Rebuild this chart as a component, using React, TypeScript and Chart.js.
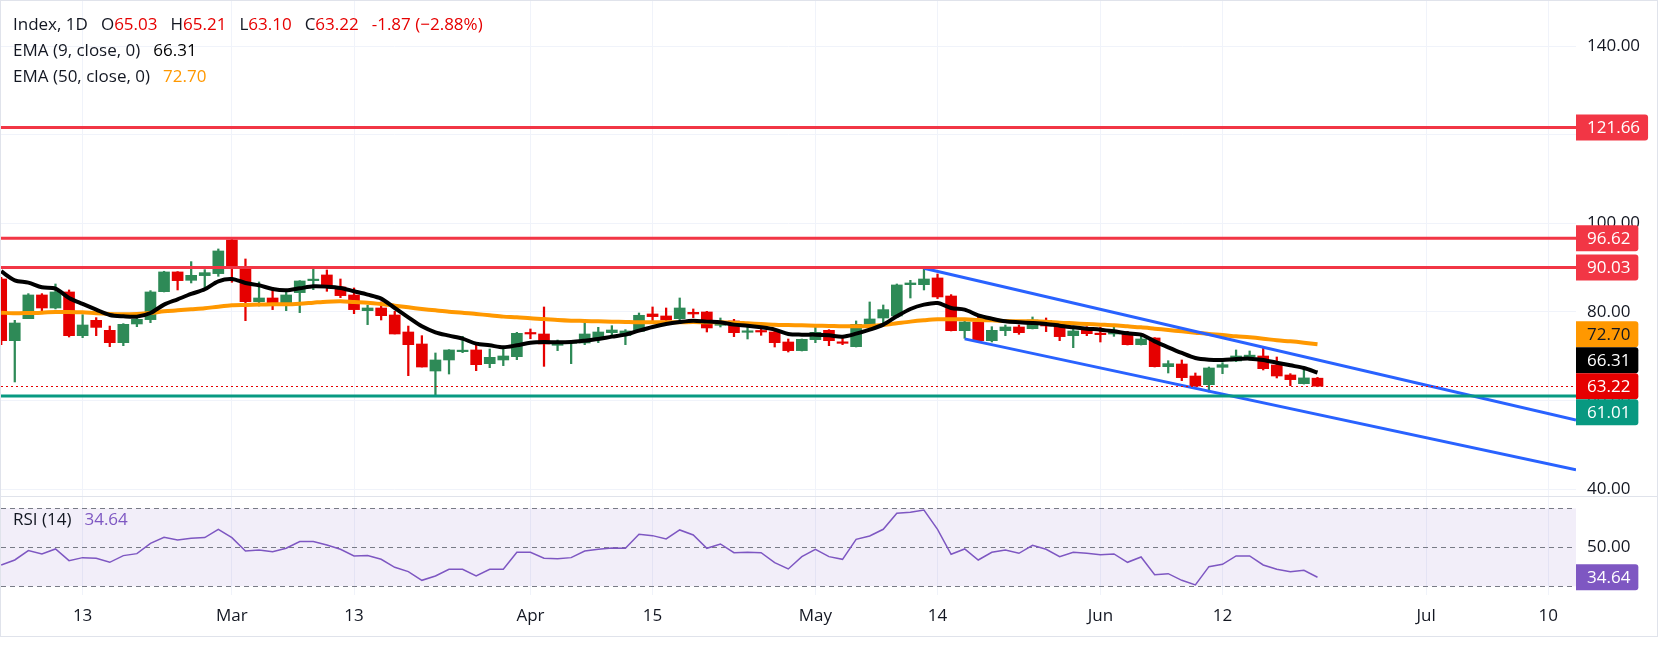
import React, { useEffect, useRef } from "react";
import { Chart, registerables } from "chart.js";

Chart.register(...registerables);

// ---------------- data ----------------
const opens = [
  87.43, 73.5, 78.47, 83.82, 80.88, 84.5, 74.63, 78.1, 75.84, 73.05,
  77.27, 78.25, 84.57, 89.02, 87.13, 88.19, 88.64, 96.24, 90.15, 82.31,
  83.14, 81.94, 84.35, 87.06, 88.34, 85.63, 83.82, 80.28, 80.88, 79.3,
  75.46, 72.75, 66.65, 69.14, 71.02, 71.4, 68.31, 69.14, 69.89, 75.16,
  75.01, 72.45, 72.9, 72.98, 74.18, 75.31, 74.63, 75.61, 79.53, 79.08,
  78.47, 79.9, 79.98, 76.97, 77.95, 75.39, 75.61, 75.46, 73.2, 71.25,
  73.73, 75.84, 73.05, 72.15, 77.19, 78.62, 79.08, 86.15, 86.15, 87.66,
  83.59, 75.76, 77.72, 73.5, 75.76, 76.59, 76.21, 78.1, 77.04, 74.63,
  75.91, 75.08, 75.01, 75.24, 72.6, 74.11, 67.63, 68.23, 65.52, 63.56,
  67.48, 68.91, 69.89, 70.04, 68.01, 65.75, 63.79, 65.03,
];
const highs = [
  87.8, 78.1, 84.12, 84.12, 86.3, 84.95, 79.38, 78.7, 76.8, 77.34,
  79.45, 84.8, 89.17, 89.1, 91.35, 89.54, 94.21, 96.62, 91.95, 86.76,
  85.55, 84.95, 87.06, 90.07, 89.47, 87.43, 85.4, 81.49, 82.24, 80.13,
  76.8, 74.63, 70.72, 71.47, 74.48, 72.45, 71.62, 71.85, 75.39, 76.14,
  81.11, 73.65, 73.35, 77.72, 76.51, 76.89, 75.99, 79.75, 81.11, 80.88,
  83.14, 80.66, 80.13, 78.62, 78.32, 76.51, 76.59, 76.14, 73.88, 73.88,
  77.04, 75.99, 74.41, 77.95, 82.24, 81.56, 86.3, 87.13, 89.77, 88.56,
  83.9, 78.25, 78.78, 76.66, 77.04, 77.04, 78.85, 78.62, 77.49, 76.44,
  76.66, 76.51, 77.04, 75.61, 75.01, 74.18, 68.98, 69.14, 66.2, 67.55,
  68.53, 71.4, 71.17, 71.85, 69.81, 66.05, 67.1, 65.21,
];
const lows = [
  72.6, 64.17, 78.47, 80.05, 80.66, 74.33, 74.18, 74.63, 72.15, 72.37,
  76.66, 77.57, 84.5, 84.95, 86.53, 85.17, 88.04, 86.68, 78.02, 81.33,
  80.51, 80.28, 79.83, 85.02, 84.65, 83.22, 79.6, 77.12, 78.17, 75.01,
  65.6, 67.55, 61.25, 65.97, 70.79, 66.72, 67.4, 67.86, 69.21, 73.95,
  67.7, 71.25, 68.31, 72.6, 73.05, 74.63, 72.6, 75.54, 78.02, 77.87,
  77.87, 78.7, 75.46, 76.59, 74.41, 73.88, 74.71, 72.07, 70.94, 71.17,
  73.05, 72.37, 72.6, 72.07, 77.04, 77.42, 79.08, 83.14, 84.95, 83.0,
  75.69, 74.03, 73.2, 73.2, 74.63, 74.93, 76.14, 75.54, 73.5, 71.92,
  74.63, 73.2, 74.48, 72.52, 72.52, 67.55, 66.2, 64.47, 63.19, 61.91,
  66.05, 68.76, 69.14, 66.88, 65.07, 63.34, 63.71, 63.1,
];
const closes = [
  73.5, 77.49, 83.82, 80.88, 84.5, 74.63, 77.04, 76.5, 73.05, 77.19,
  78.32, 84.5, 89.02, 87.06, 88.26, 88.86, 93.76, 89.77, 82.31, 83.14,
  81.86, 83.82, 86.98, 87.28, 85.63, 83.67, 80.51, 80.88, 79.15, 75.01,
  72.6, 67.55, 69.14, 71.4, 71.17, 68.08, 69.74, 70.04, 75.16, 75.01,
  72.75, 72.75, 73.05, 75.01, 75.46, 75.91, 75.69, 79.23, 78.93, 78.17,
  80.88, 79.53, 76.37, 77.72, 75.31, 75.54, 75.46, 73.05, 71.25, 73.8,
  75.39, 73.5, 72.9, 77.19, 78.4, 80.51, 86.08, 86.53, 87.43, 83.37,
  75.76, 77.72, 73.5, 75.84, 76.59, 75.31, 78.17, 76.82, 74.41, 75.69,
  75.08, 74.86, 75.31, 72.6, 73.88, 67.63, 68.31, 65.15, 63.26, 67.33,
  68.08, 70.04, 70.12, 67.18, 65.52, 64.7, 65.09, 63.22,
];
const ema9 = [
  89.17, 87.13, 86.6, 85.55, 85.25, 83.14, 81.79, 80.51, 79.3, 79.0,
  78.93, 79.75, 81.64, 82.84, 84.05, 85.1, 86.91, 87.43, 86.53, 86.0,
  85.17, 84.87, 85.32, 85.78, 85.7, 85.4, 84.65, 83.9, 82.99, 80.88,
  78.78, 76.74, 75.39, 74.63, 73.95, 72.82, 72.45, 72.0, 72.45, 73.05,
  73.2, 73.13, 73.2, 73.5, 73.88, 74.41, 74.86, 75.76, 76.59, 77.27,
  77.72, 78.02, 77.8, 77.65, 77.12, 76.89, 76.51, 75.99, 75.01, 74.86,
  74.86, 74.71, 74.41, 75.08, 75.99, 77.12, 79.0, 80.66, 81.64, 82.01,
  80.88, 80.51, 79.23, 78.47, 77.87, 77.65, 77.49, 77.27, 76.89, 76.51,
  76.21, 75.99, 75.61, 75.16, 74.86, 73.35, 72.0, 70.72, 69.59, 69.21,
  69.14, 69.36, 69.44, 69.14, 68.53, 67.93, 67.33, 66.31,
];
const ema50 = [
  79.83, 79.68, 79.75, 79.83, 79.98, 79.98, 79.9, 79.68, 79.53, 79.45,
  79.53, 79.75, 80.13, 80.35, 80.58, 80.81, 81.18, 81.48, 81.56, 81.64,
  81.71, 81.71, 81.86, 82.09, 82.31, 82.4, 82.24, 82.09, 81.79, 81.41,
  81.03, 80.66, 80.35, 80.05, 79.83, 79.53, 79.23, 78.93, 78.78, 78.55,
  78.4, 78.17, 78.02, 77.95, 77.87, 77.8, 77.72, 77.65, 77.65, 77.65,
  77.65, 77.72, 77.65, 77.65, 77.57, 77.42, 77.27, 77.12, 77.04, 76.97,
  76.89, 76.82, 76.74, 76.74, 76.82, 77.04, 77.42, 77.8, 78.1, 78.32,
  78.32, 78.32, 78.17, 78.1, 77.95, 77.87, 77.87, 77.8, 77.57, 77.42,
  77.27, 77.12, 76.97, 76.74, 76.51, 76.21, 75.91, 75.61, 75.31, 75.01,
  74.78, 74.48, 74.26, 73.95, 73.58, 73.35, 73.05, 72.7,
];
const rsi = [
  40.94, 43.5, 48.29, 46.58, 49.15, 43.16, 44.7, 44.36, 42.3, 45.73,
  46.75, 52.05, 55.13, 53.76, 54.62, 54.96, 59.23, 54.96, 48.12, 48.63,
  47.78, 49.49, 52.91, 52.91, 51.2, 48.97, 45.55, 45.73, 43.84, 39.74,
  37.52, 33.07, 35.29, 38.71, 38.71, 35.29, 38.71, 38.71, 47.44, 47.44,
  44.36, 44.19, 44.7, 48.12, 48.97, 49.66, 49.49, 56.67, 55.98, 54.28,
  58.89, 56.33, 49.49, 51.71, 47.26, 47.44, 47.26, 42.13, 38.89, 45.21,
  48.97, 45.21, 43.84, 54.1, 55.81, 59.23, 67.44, 67.96, 69.15, 59.23,
  46.41, 49.15, 43.5, 47.44, 48.63, 46.92, 51.03, 48.97, 45.21, 47.44,
  46.92, 46.24, 46.58, 42.3, 45.04, 35.98, 36.49, 33.07, 30.68, 40.08,
  41.28, 45.55, 45.55, 40.94, 38.71, 37.52, 38.2, 34.64,
];

// time-axis labels (bar index -> text)
const xTickIndex = [6, 17, 26, 39, 48, 60, 69, 81, 90, 105, 114];
const xTickText = ["13", "Mar", "13", "Apr", "15", "May", "14", "Jun", "12", "Jul", "10"];

// price-axis ticks
const priceTicks = [40, 60, 80, 100, 120, 140];
const rsiTicks = [50];
const rsiBands = [70, 50, 30];

// drawn levels
const resistanceLevels = [121.66, 96.62, 90.03];
const supportLevels = [61.01];
const upperChannel = [
  { x: 68, y: 89.85 },
  { x: 116.05, y: 55.6 },
];
const lowerChannel = [
  { x: 71, y: 73.9 },
  { x: 116.05, y: 44.36 },
];

const changeText = "-1.87 (\u22122.88%)";

// ---------------- style ----------------
const FONT = '"Open Sans", "Noto Sans", Roboto, sans-serif';
const FS = 17;
const TEXT = "#131722";
const GRID = "#F0F3FA";
const UP = "#2E8A57";
const DOWN = "#E60000";
const LEVEL_RED = "#F23645";
const LEVEL_GREEN = "#089981";
const CHANNEL = "#2962FF";
const EMA9_C = "#000000";
const EMA50_C = "#FF9800";
const RSI_C = "#7E57C2";

const W = 1658;
const MAIN_H = 497;
const RSI_H = 140;
const AXIS_W = 81;
const X_MIN = -0.015;
const X_MAX = 116.05;
const Y_MIN = 38.42;
const Y_MAX = 150.21;
const R_MIN = 25.54;
const R_MAX = 75.79;
const TAG_H = 26;

const fmt = (v: number) => v.toFixed(2);

function drawTag(ctx: CanvasRenderingContext2D, x0: number, y: number, text: string, bg: string, fg: string) {
  ctx.save();
  ctx.font = `${FS}px ${FONT}`;
  const tw = ctx.measureText(text).width;
  const w = 11 + tw + 8;
  ctx.fillStyle = bg;
  ctx.beginPath();
  (ctx as any).roundRect(x0, y - TAG_H / 2, w, TAG_H, [0, 3, 3, 0]);
  ctx.fill();
  ctx.fillStyle = fg;
  ctx.textAlign = "left";
  ctx.textBaseline = "middle";
  ctx.fillText(text, x0 + 11, y + 1);
  ctx.restore();
}

const xScaleBase = (showLabels: boolean) => ({
  type: "linear" as const,
  min: X_MIN,
  max: X_MAX,
  offset: false,
  grid: { color: GRID, lineWidth: 1, drawTicks: false, offset: false },
  border: { display: false },
  ticks: {
    display: showLabels,
    color: TEXT,
    font: { size: FS, family: FONT },
    padding: 11,
    autoSkip: false,
    maxRotation: 0,
    callback: (v: any) => {
      const k = xTickIndex.indexOf(Number(v));
      return k >= 0 ? xTickText[k] : "";
    },
  },
  afterBuildTicks: (s: any) => {
    s.ticks = xTickIndex.map((v) => ({ value: v }));
  },
  afterFit: (s: any) => {
    s.height = showLabels ? RSI_H - 1 - 98 : 0;
    s.paddingLeft = 0;
    s.paddingRight = 0;
  },
});

export default function App() {
  const mainRef = useRef<HTMLCanvasElement>(null);
  const rsiRef = useRef<HTMLCanvasElement>(null);

  useEffect(() => {
    const idx = closes.map((_, i) => i);
    const colors = idx.map((i) => (closes[i] >= opens[i] ? UP : DOWN));

    const levelPlugin = {
      id: "levels",
      afterDatasetsDraw(chart: any) {
        const { ctx, chartArea: a, scales } = chart;
        const y = scales.y;
        ctx.save();
        ctx.beginPath();
        ctx.rect(a.left, a.top, a.right - a.left, a.bottom - a.top);
        ctx.clip();
        const last = closes[closes.length - 1];
        ctx.strokeStyle = DOWN;
        ctx.lineWidth = 1;
        ctx.setLineDash([2, 3]);
        ctx.beginPath();
        ctx.moveTo(a.left, Math.round(y.getPixelForValue(last)) + 0.5);
        ctx.lineTo(a.right, Math.round(y.getPixelForValue(last)) + 0.5);
        ctx.stroke();
        ctx.setLineDash([]);
        ctx.lineWidth = 3;
        for (const lv of resistanceLevels) {
          ctx.strokeStyle = LEVEL_RED;
          ctx.beginPath();
          ctx.moveTo(a.left, y.getPixelForValue(lv));
          ctx.lineTo(a.right, y.getPixelForValue(lv));
          ctx.stroke();
        }
        for (const lv of supportLevels) {
          ctx.strokeStyle = LEVEL_GREEN;
          ctx.beginPath();
          ctx.moveTo(a.left, y.getPixelForValue(lv));
          ctx.lineTo(a.right, y.getPixelForValue(lv));
          ctx.stroke();
        }
        ctx.restore();
      },
      afterDraw(chart: any) {
        const { ctx, chartArea: a, scales } = chart;
        const y = scales.y;
        const last = closes[closes.length - 1];
        const tags = [
          ...resistanceLevels.map((v) => ({ v, bg: LEVEL_RED, fg: "#FFFFFF", anchor: false })),
          { v: ema50[ema50.length - 1], bg: EMA50_C, fg: TEXT, anchor: false },
          { v: ema9[ema9.length - 1], bg: EMA9_C, fg: "#FFFFFF", anchor: false },
          { v: last, bg: DOWN, fg: "#FFFFFF", anchor: true },
          ...supportLevels.map((v) => ({ v, bg: LEVEL_GREEN, fg: "#FFFFFF", anchor: false })),
        ].map((t) => ({ ...t, py: y.getPixelForValue(t.v) }));
        tags.sort((p, q) => p.py - q.py);
        const ai = tags.findIndex((t) => t.anchor);
        for (let k = ai - 1; k >= 0; k--) tags[k].py = Math.min(tags[k].py, tags[k + 1].py - TAG_H);
        for (let k = ai + 1; k < tags.length; k++) tags[k].py = Math.max(tags[k].py, tags[k - 1].py + TAG_H);
        for (const t of tags) drawTag(ctx, a.right, t.py, fmt(t.v), t.bg, t.fg);
      },
    };

    const main = new Chart(mainRef.current!, {
      type: "bar",
      data: {
        datasets: [
          {
            type: "bar",
            data: idx.map((i) => ({ x: i, y: [lows[i], highs[i]] })) as any,
            backgroundColor: colors,
            barThickness: 1.6,
            grouped: false,
            order: 4,
          },
          {
            type: "bar",
            data: idx.map((i) => ({ x: i, y: [opens[i], closes[i]] })) as any,
            backgroundColor: colors,
            barThickness: 11,
            minBarLength: 1.5,
            grouped: false,
            order: 3,
          },
          {
            type: "line",
            data: idx.map((i) => ({ x: i, y: ema50[i] })),
            borderColor: EMA50_C,
            borderWidth: 4,
            pointRadius: 0,
            tension: 0.3,
            order: 2,
          },
          {
            type: "line",
            data: idx.map((i) => ({ x: i, y: ema9[i] })),
            borderColor: EMA9_C,
            borderWidth: 4,
            pointRadius: 0,
            tension: 0.3,
            order: 1,
          },
          {
            type: "line",
            data: upperChannel,
            borderColor: CHANNEL,
            borderWidth: 3,
            pointRadius: 0,
            order: 0,
          },
          {
            type: "line",
            data: lowerChannel,
            borderColor: CHANNEL,
            borderWidth: 3,
            pointRadius: 0,
            order: 0,
          },
        ] as any,
      },
      options: {
        responsive: false,
        animation: false,
        events: [],
        layout: { padding: { left: 1, right: 1, top: 1, bottom: 1 } },
        plugins: { legend: { display: false }, tooltip: { enabled: false } },
        scales: {
          x: xScaleBase(false) as any,
          y: {
            type: "linear",
            position: "right",
            min: Y_MIN,
            max: Y_MAX,
            beginAtZero: false,
            grid: { color: GRID, drawTicks: false },
            border: { display: false },
            ticks: {
              color: TEXT,
              font: { size: FS, family: FONT },
              padding: 11,
              callback: (v: any) => Number(v).toFixed(2),
            },
            afterBuildTicks: (s: any) => {
              s.ticks = priceTicks.map((v) => ({ value: v }));
            },
            afterFit: (s: any) => {
              s.width = AXIS_W;
              s.paddingTop = 0;
              s.paddingBottom = 0;
            },
          } as any,
        },
      },
      plugins: [levelPlugin],
    });

    const bandPlugin = {
      id: "rsiBand",
      beforeDatasetsDraw(chart: any) {
        const { ctx, chartArea: a, scales } = chart;
        const y = scales.y;
        const top = y.getPixelForValue(rsiBands[0]);
        const bot = y.getPixelForValue(rsiBands[rsiBands.length - 1]);
        ctx.save();
        ctx.fillStyle = "rgba(126, 87, 194, 0.1)";
        ctx.fillRect(a.left, top, a.right - a.left, bot - top);
        ctx.strokeStyle = "#787B86";
        ctx.lineWidth = 1;
        ctx.setLineDash([5, 4]);
        for (const b of rsiBands) {
          const py = Math.round(y.getPixelForValue(b)) + 0.5;
          ctx.beginPath();
          ctx.moveTo(a.left, py);
          ctx.lineTo(a.right, py);
          ctx.stroke();
        }
        ctx.restore();
      },
      afterDraw(chart: any) {
        const { ctx, chartArea: a, scales } = chart;
        const v = rsi[rsi.length - 1];
        drawTag(ctx, a.right, scales.y.getPixelForValue(v), fmt(v), RSI_C, "#FFFFFF");
      },
    };

    const rsiChart = new Chart(rsiRef.current!, {
      type: "line",
      data: {
        datasets: [
          {
            data: idx.map((i) => ({ x: i, y: rsi[i] })),
            borderColor: RSI_C,
            borderWidth: 1.5,
            pointRadius: 0,
            tension: 0,
          },
        ],
      },
      options: {
        responsive: false,
        animation: false,
        events: [],
        layout: { padding: { left: 1, right: 1, top: 0, bottom: 1 } },
        plugins: { legend: { display: false }, tooltip: { enabled: false } },
        scales: {
          x: xScaleBase(true) as any,
          y: {
            type: "linear",
            position: "right",
            min: R_MIN,
            max: R_MAX,
            grid: { display: false, drawTicks: false },
            border: { display: false },
            ticks: {
              color: TEXT,
              font: { size: FS, family: FONT },
              padding: 11,
              callback: (v: any) => Number(v).toFixed(2),
            },
            afterBuildTicks: (s: any) => {
              s.ticks = rsiTicks.map((v) => ({ value: v }));
            },
            afterFit: (s: any) => {
              s.width = AXIS_W;
              s.paddingTop = 0;
              s.paddingBottom = 0;
            },
          } as any,
        },
      },
      plugins: [bandPlugin],
    });

    return () => {
      main.destroy();
      rsiChart.destroy();
    };
  }, []);

  const n = closes.length - 1;
  const red = { color: DOWN };
  const gap = { marginLeft: 13 };

  return (
    <div style={{ position: "absolute", left: 0, top: 0, width: W, height: 647, background: "#FFFFFF", overflow: "hidden" }}>
      <canvas ref={mainRef} width={W} height={MAIN_H} style={{ position: "absolute", left: 0, top: 0, display: "block" }} />
      <canvas ref={rsiRef} width={W} height={RSI_H} style={{ position: "absolute", left: 0, top: MAIN_H, display: "block" }} />
      <div style={{ position: "absolute", left: 0, top: MAIN_H - 1, width: W, height: 1, background: "#E0E3EB" }} />
      <div
        style={{
          position: "absolute",
          left: 0,
          top: 0,
          width: W,
          height: MAIN_H + RSI_H,
          border: "1px solid #E0E3EB",
          boxSizing: "border-box",
          pointerEvents: "none",
        }}
      />
      <div
        style={{
          position: "absolute",
          left: 13,
          top: 11,
          font: `${FS}px ${FONT}`,
          color: TEXT,
          lineHeight: "26px",
          whiteSpace: "pre",
        }}
      >
        <div>
          <span>Index, 1D</span>
          <span style={gap}>O</span>
          <span style={red}>{fmt(opens[n])}</span>
          <span style={gap}>H</span>
          <span style={red}>{fmt(highs[n])}</span>
          <span style={gap}>L</span>
          <span style={red}>{fmt(lows[n])}</span>
          <span style={gap}>C</span>
          <span style={red}>{fmt(closes[n])}</span>
          <span style={{ ...gap, ...red }}>{changeText}</span>
        </div>
        <div>
          <span>EMA (9, close, 0)</span>
          <span style={{ ...gap, color: EMA9_C }}>{fmt(ema9[n])}</span>
        </div>
        <div>
          <span>EMA (50, close, 0)</span>
          <span style={{ ...gap, color: EMA50_C }}>{fmt(ema50[n])}</span>
        </div>
      </div>
      <div
        style={{
          position: "absolute",
          left: 13,
          top: 506,
          font: `${FS}px ${FONT}`,
          color: TEXT,
          lineHeight: "26px",
          whiteSpace: "pre",
        }}
      >
        <span>RSI (14)</span>
        <span style={{ ...gap, color: RSI_C }}>{fmt(rsi[n])}</span>
      </div>
    </div>
  );
}
